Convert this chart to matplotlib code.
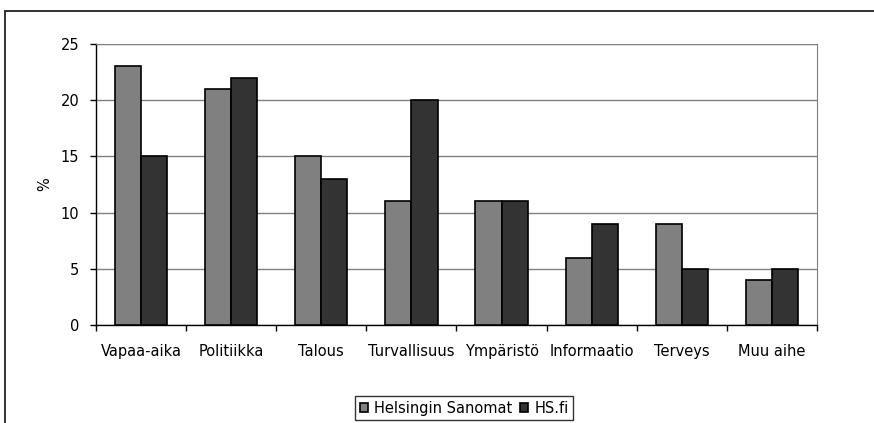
import matplotlib
matplotlib.use("Agg")
import matplotlib.pyplot as plt
from matplotlib.patches import Rectangle
import numpy as np

# ── data ─────────────────────────────────────────
CATEGORIES = ["Vapaa-aika", "Politiikka", "Talous", "Turvallisuus",
              "Ympäristö", "Informaatio", "Terveys", "Muu aihe"]
HS_PRINT = [23, 21, 15, 11, 11, 6, 9, 4]     # Helsingin Sanomat
HS_WEB   = [15, 22, 13, 20, 11, 9, 5, 5]     # HS.fi
SERIES_NAMES = ["Helsingin Sanomat", "HS.fi"]
Y_TICKS = [0, 5, 10, 15, 20, 25]

W, H = 874, 423
FS = 10.5
plt.rcParams["font.family"] = ["DejaVu Sans"]

fig = plt.figure(figsize=(W / 100, H / 100), dpi=100)

# outer chart frame (runs off the right and bottom edge)
fig.patches.append(Rectangle((5 / W, -0.1), 1.0, (H - 11) / H + 0.1,
                             transform=fig.transFigure, fill=False,
                             edgecolor="#222222", linewidth=1.3))

ax = fig.add_axes([96 / W, (H - 325) / H, 721 / W, (325 - 44) / H])

x = np.arange(len(CATEGORIES))
bw = 0.29
ax.bar(x - bw / 2, HS_PRINT, bw, color="#808080", edgecolor="black",
       linewidth=1.2, label=SERIES_NAMES[0], zorder=3)
ax.bar(x + bw / 2, HS_WEB, bw, color="#333333", edgecolor="black",
       linewidth=1.2, label=SERIES_NAMES[1], zorder=3)

ax.set_xlim(-0.5, len(CATEGORIES) - 0.5)
ax.set_ylim(0, 25)
ax.set_yticks(Y_TICKS)
ax.set_yticklabels([str(v) for v in Y_TICKS], fontsize=FS)
ax.yaxis.grid(True, color="#808080", linewidth=1.0, zorder=0)
ax.set_axisbelow(True)

ax.set_xticks(x)
ax.set_xticklabels(CATEGORIES, fontsize=FS)
ax.tick_params(axis="x", which="major", length=0, pad=14)
ax.set_xticks(np.arange(len(CATEGORIES) + 1) - 0.5, minor=True)
ax.tick_params(axis="x", which="minor", length=4, width=1, direction="out")
ax.tick_params(axis="y", length=4, width=1, direction="out", pad=8)

for side in ("top", "right"):
    ax.spines[side].set_color("#808080")
for side in ("left", "bottom"):
    ax.spines[side].set_color("black")
    ax.spines[side].set_linewidth(1.0)

ax.set_ylabel("%", fontsize=FS, labelpad=6)

leg = fig.legend(loc="center", bbox_to_anchor=(464 / W, (H - 408) / H),
                 ncol=2, fontsize=FS, frameon=True, fancybox=False,
                 handlelength=0.6, handleheight=0.6, handletextpad=0.4,
                 columnspacing=0.5, borderpad=0.3, borderaxespad=0)
leg.get_frame().set_edgecolor("black")
leg.get_frame().set_linewidth(1.0)

fig.savefig("out.png", dpi=100)
